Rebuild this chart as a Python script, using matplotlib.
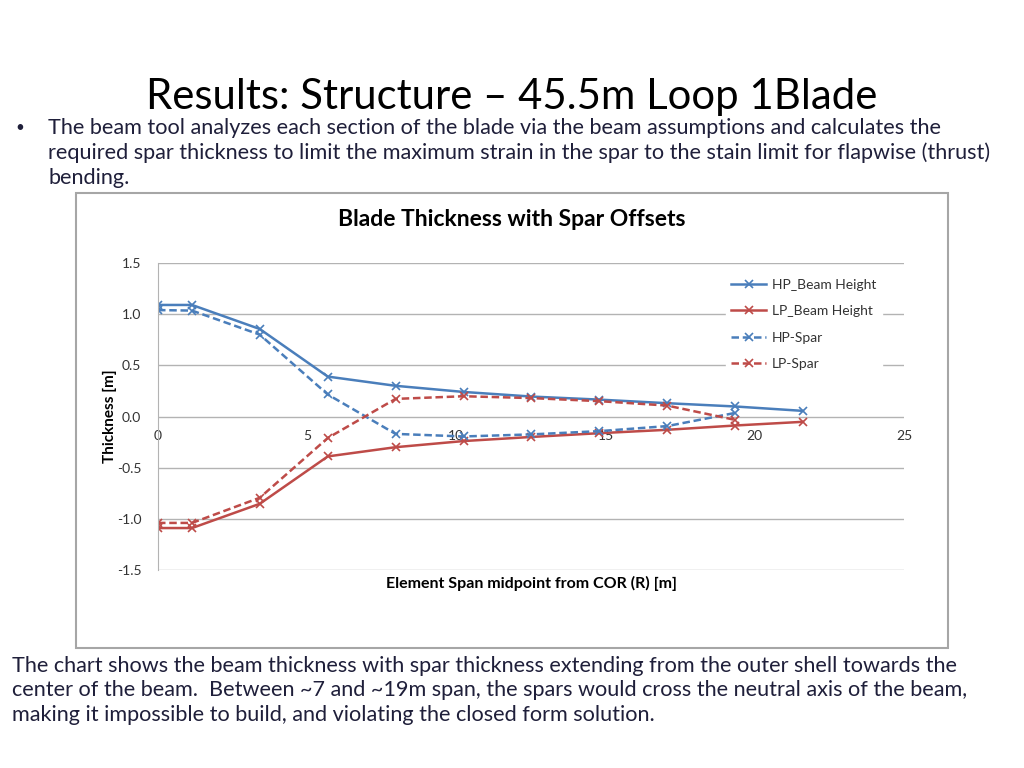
import matplotlib
matplotlib.use("Agg")
import matplotlib.pyplot as plt
from matplotlib.patches import Rectangle

# data
span = [0.0, 1.14, 3.41, 5.69, 7.96, 10.24, 12.51, 14.79, 17.06, 19.34, 21.61]
hp_beam = [1.09, 1.09, 0.855, 0.39, 0.30, 0.24, 0.195, 0.165, 0.13, 0.098, 0.055]
lp_beam = [-1.09, -1.09, -0.853, -0.39, -0.30, -0.24, -0.20, -0.163, -0.13, -0.088, -0.052]
hp_spar = [1.04, 1.035, 0.80, 0.215, -0.17, -0.195, -0.175, -0.143, -0.094, 0.035]
lp_spar = [-1.04, -1.04, -0.794, -0.21, 0.172, 0.198, 0.18, 0.15, 0.107, -0.033]

series_names = ["HP_Beam Height", "LP_Beam Height", "HP-Spar", "LP-Spar"]
y_ticks = [-1.5, -1.0, -0.5, 0.0, 0.5, 1.0, 1.5]
x_ticks = [0, 5, 10, 15, 20, 25]

slide_title = "Results: Structure \u2013 45.5m Loop 1Blade"
bullet_lines = [
    "The beam tool analyzes each section of the blade via the beam assumptions and calculates the",
    "required spar thickness to limit the maximum strain in the spar to the stain limit for flapwise (thrust)",
    "bending.",
]
note_lines = [
    "The chart shows the beam thickness with spar thickness extending from the outer shell towards the",
    "center of the beam.  Between ~7 and ~19m span, the spars would cross the neutral axis of the beam,",
    "making it impossible to build, and violating the closed form solution.",
]

blue = "#4a7ebb"
red = "#be4b48"
slide_font = ["Lato", "DejaVu Sans"]
chart_font = ["Lato", "DejaVu Sans"]
W, H = 1024, 768

fig = plt.figure(figsize=(10.24, 7.68), dpi=100)

# slide text
fig.text(512 / W, 1 - 97 / H, slide_title, ha="center", va="center",
         fontsize=30.2, family=slide_font, color="black")
fig.text(20 / W, 1 - 128 / H, "\u2022", ha="center", va="center",
         fontsize=11, family=slide_font, color="#1f1f3a")
for i, line in enumerate(bullet_lines):
    fig.text(48 / W, 1 - (128 + 25 * i) / H, line, ha="left", va="center",
             fontsize=15.6, family=slide_font, color="#1f1f3a")
for i, line in enumerate(note_lines):
    fig.text(12 / W, 1 - (666 + 24.5 * i) / H, line, ha="left", va="center",
             fontsize=15.6, family=slide_font, color="#1f1f3a")

# chart frame
fig.patches.append(Rectangle((76 / W, 1 - 648 / H), 872 / W, 455 / H,
                             transform=fig.transFigure, facecolor="white",
                             edgecolor="#a6a6a6", linewidth=1.5, zorder=-1))

ax = fig.add_axes([158 / W, 1 - 570 / H, 746 / W, 307 / H])
ax.set_xlim(0, 25)
ax.set_ylim(-1.5, 1.5)
ax.set_yticks(y_ticks)
ax.set_yticklabels([f"{v:.1f}" for v in y_ticks])
ax.set_xticks(x_ticks)
ax.set_xticklabels([str(v) for v in x_ticks])
ax.grid(axis="y", color="#b3b3b3", linewidth=1)
ax.set_axisbelow(True)
for s in ["top", "right"]:
    ax.spines[s].set_visible(False)
ax.spines["left"].set_color("#b3b3b3")
ax.spines["bottom"].set_position(("data", 0))
ax.spines["bottom"].set_visible(False)
ax.tick_params(length=0, labelsize=10, colors="#333333")
ax.tick_params(axis="x", pad=10)
ax.tick_params(axis="y", pad=12)
for lbl in ax.get_xticklabels() + ax.get_yticklabels():
    lbl.set_family(chart_font)

ax.plot(span, hp_beam, color=blue, lw=1.8, marker="x", ms=6, mew=1.2, label=series_names[0])
ax.plot(span, lp_beam, color=red, lw=1.8, marker="x", ms=6, mew=1.2, label=series_names[1])
ax.plot(span[:len(hp_spar)], hp_spar, color=blue, lw=1.8, ls=(0, (3, 1.5)), marker="x",
        ms=6, mew=1.2, label=series_names[2])
ax.plot(span[:len(lp_spar)], lp_spar, color=red, lw=1.8, ls=(0, (3, 1.5)), marker="x",
        ms=6, mew=1.2, label=series_names[3])

leg = ax.legend(loc="upper left", bbox_to_anchor=(0.752, 0.99), frameon=True,
                facecolor="white", edgecolor="white", framealpha=1,
                handlelength=2.5, handletextpad=0.4, labelspacing=1.05,
                prop={"family": chart_font, "size": 10})
for t in leg.get_texts():
    t.set_color("#333333")

fig.text(512 / W, 1 - 219 / H, "Blade Thickness with Spar Offsets", ha="center",
         va="center", fontsize=16.5, fontweight="bold", family=chart_font)
fig.text(531 / W, 1 - 583 / H, "Element Span midpoint from COR (R) [m]", ha="center",
         va="center", fontsize=11.5, fontweight="bold", family=chart_font)
fig.text(110 / W, 1 - 416 / H, "Thickness [m]", ha="center", va="center",
         rotation=90, fontsize=11, fontweight="bold", family=chart_font)

fig.savefig("out.png", dpi=100)
